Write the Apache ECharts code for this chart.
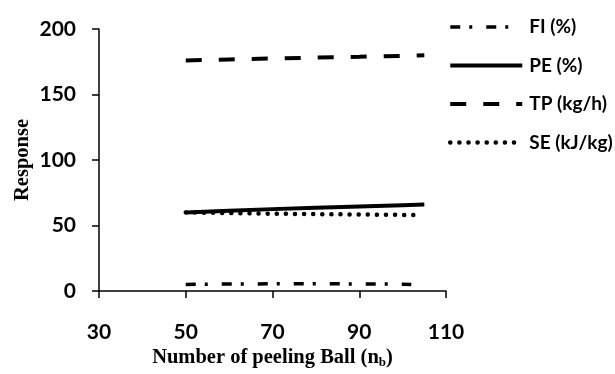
<!DOCTYPE html>
<html>
<head>
<meta charset="utf-8">
<script src="https://cdn.jsdelivr.net/npm/echarts@6/dist/echarts.min.js"></script>
<style>
  html, body { margin: 0; padding: 0; background: #fff; }
  #chart { width: 615px; height: 374px; }
</style>
</head>
<body>
<div id="chart"></div>
<script>
// Number of peeling balls and the responses measured at each count
const ballsTP = [50, 60, 70, 80, 90, 100, 105];
const tpValues = [176, 176.8, 177.5, 178.2, 178.8, 179.5, 180];

const ballsPE = [50, 60, 70, 80, 90, 100, 105];
const peValues = [60, 61.3, 62.5, 63.5, 64.5, 65.5, 66];

const ballsSE = [50, 60, 70, 80, 90, 100, 104];
const seValues = [60, 59.5, 59, 58.7, 58.4, 58.1, 58];

const ballsFI = [50, 60, 70, 80, 90, 100, 102];
const fiValues = [5, 5.3, 5.5, 5.5, 5.4, 5.2, 5];

const seriesNames = ['FI (%)', 'PE (%)', 'TP (kg/h)', 'SE (kJ/kg)'];

const pairs = (xs, ys) => xs.map((x, i) => [x, ys[i]]);

// line styles shared by the plotted series and their legend entries
const styles = [
  { color: '#000', width: 3.5, type: [10, 9, 3, 14] },
  { color: '#000', width: 4, type: 'solid' },
  { color: '#000', width: 4, type: [16, 17] },
  { color: '#000', width: 4.5, type: [0.1, 9], cap: 'round' }
];

const chart = echarts.init(document.getElementById('chart'));

const lineBase = {
  type: 'line', symbol: 'none', smooth: false, silent: true,
  itemStyle: { color: '#000' }
};

chart.setOption({
  animation: false,
  backgroundColor: '#fff',
  grid: { left: 99, right: 169, top: 29, bottom: 82 },
  legend: {
    orient: 'vertical',
    left: 443,
    top: 12,
    itemWidth: 72,
    itemHeight: 20,
    itemGap: 18.5,
    data: seriesNames.map((n, i) => ({ name: n, lineStyle: styles[i] })),
    itemStyle: { opacity: 0 },
    textStyle: { fontFamily: 'Lato', fontWeight: 'bold', fontSize: 19, lineHeight: 20, color: '#000', padding: [0, 0, 0, 2] }
  },
  xAxis: {
    type: 'value',
    min: 30,
    max: 110,
    interval: 20,
    name: 'Number of peeling Ball (n{sub|b})',
    nameLocation: 'middle',
    nameGap: 56,
    nameMoveOverlap: false,
    nameTextStyle: {
      fontFamily: 'Liberation Serif', fontWeight: 'bold', fontSize: 20.5, color: '#000',
      rich: { sub: { fontFamily: 'Liberation Serif', fontWeight: 'bold', fontSize: 13, verticalAlign: 'bottom', padding: [9, 0, 0, 0] } }
    },
    axisLine: { onZero: false, lineStyle: { color: '#000', width: 1.5 } },
    axisTick: { inside: false, length: 7, lineStyle: { color: '#000', width: 1.5 } },
    axisLabel: { margin: 31, fontFamily: 'Lato', fontWeight: 'bold', fontSize: 21, color: '#000' },
    splitLine: { show: false }
  },
  yAxis: {
    type: 'value',
    min: 0,
    max: 200,
    interval: 50,
    name: 'Response',
    nameLocation: 'middle',
    nameGap: 66,
    nameMoveOverlap: false,
    nameTextStyle: { fontFamily: 'Liberation Serif', fontWeight: 'bold', fontSize: 20.5, color: '#000' },
    axisLine: { show: true, lineStyle: { color: '#000', width: 1.5 } },
    axisTick: { show: true, inside: false, length: 7, lineStyle: { color: '#000', width: 1.5 } },
    axisLabel: { margin: 23, fontFamily: 'Lato', fontWeight: 'bold', fontSize: 21, color: '#000' },
    splitLine: { show: false }
  },
  series: [
    Object.assign({}, lineBase, { name: seriesNames[0], data: pairs(ballsFI, fiValues), lineStyle: styles[0] }),
    Object.assign({}, lineBase, { name: seriesNames[1], data: pairs(ballsPE, peValues), lineStyle: styles[1] }),
    Object.assign({}, lineBase, { name: seriesNames[2], data: pairs(ballsTP, tpValues), lineStyle: styles[2] }),
    Object.assign({}, lineBase, { name: seriesNames[3], data: pairs(ballsSE, seValues), lineStyle: styles[3] })
  ]
});
</script>
</body>
</html>
